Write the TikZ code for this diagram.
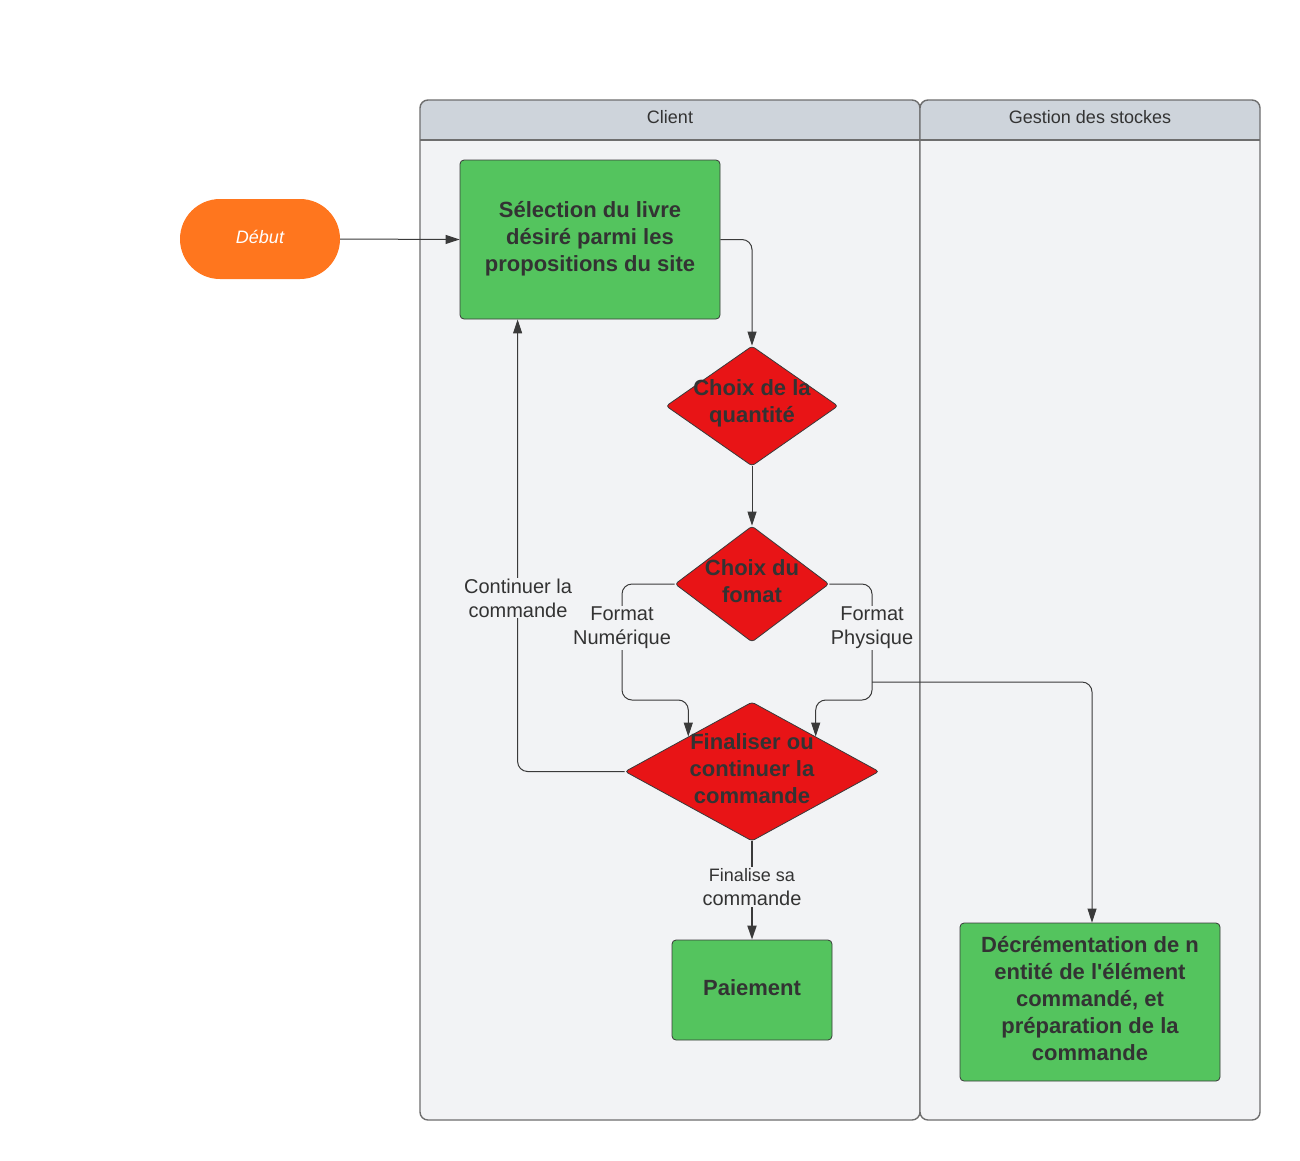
\documentclass[tikz,border=0pt]{standalone}
\usepackage{fontspec}
\setmainfont{Liberation Sans}[Ligatures=TeXOff]
\usetikzlibrary{shapes.geometric,arrows.meta,calc}
\definecolor{lanebg}{HTML}{F2F3F5}
\definecolor{headbg}{HTML}{CED4DB}
\definecolor{laneline}{HTML}{6E6E6E}
\definecolor{boxgreen}{HTML}{54C45E}
\definecolor{dred}{HTML}{E81416}
\definecolor{sorange}{HTML}{FF761E}
\definecolor{ink}{HTML}{333333}
\definecolor{edgecol}{HTML}{3A3A3A}
\begin{document}
\begin{tikzpicture}[x=1pt,y=-1pt,
  box/.style={draw=edgecol,line width=0.8pt,fill=boxgreen,rounded corners=4,inner sep=0pt,
    align=center,text=ink,font=\fontsize{22}{27}\selectfont\bfseries},
  decision/.style={diamond,draw=edgecol,line width=0.8pt,fill=dred,rounded corners=3,inner sep=0pt},
  dtext/.style={align=center,text=ink,font=\fontsize{22}{27}\selectfont\bfseries,inner sep=0pt},
  edge/.style={draw=edgecol,line width=1pt,-{Triangle[length=14pt,width=9pt]}},
  lbl/.style={fill=lanebg,align=center,text=ink,inner sep=1pt,font=\fontsize{20}{24}\selectfont},
  headtxt/.style={text=ink,font=\fontsize{18}{20}\selectfont}
]
\useasboundingbox[fill=white] (0,0) rectangle (1300,1160);

% lanes
\foreach \xa/\xb in {420/920,920/1260}{
  \fill[lanebg,rounded corners=8] (\xa,100) rectangle (\xb,1120);
  \fill[headbg,rounded corners=8] (\xa,100) rectangle (\xb,140);
  \fill[headbg] (\xa,120) rectangle (\xb,140);
  \draw[laneline,line width=1.4pt,rounded corners=8] (\xa,100) rectangle (\xb,1120);
  \draw[laneline,line width=1.4pt] (\xa,140) -- (\xb,140);
}
\node[headtxt] (hclient) at (670,117) {Client};
\node[headtxt] (hstock) at (1090,117) {Gestion des stockes};

% nodes
\node[fill=sorange,rounded corners=40,minimum width=160,minimum height=80,inner sep=0pt] (debut) at (260,239) {};
\node[text=white,font=\fontsize{18}{22}\selectfont\itshape] (debutt) at (260,237) {Début};
\node[box,minimum width=260,minimum height=159] (sel) at (590,239.5) {};
\node[dtext] (selt) at (590,238.5) {Sélection du livre\\désiré parmi les\\propositions du site};
\node[decision,minimum width=172,minimum height=120] (qty) at (752,406) {};
\node[dtext] (qtyt) at (752,403) {Choix de la\\quantité};
\node[decision,minimum width=154,minimum height=116] (fmt) at (752,584) {};
\node[dtext] (fmtt) at (752,581) {Choix du\\fomat};
\node[decision,minimum width=254,minimum height=139] (fin) at (752,771.5) {};
\node[dtext] (fint) at (752,769) {Finaliser ou\\continuer la\\commande};
\node[box,minimum width=160,minimum height=100] (pay) at (752,990) {};
\node[dtext] (payt) at (752,988) {Paiement};
\node[box,minimum width=260,minimum height=158] (dec) at (1090,1002) {};
\node[dtext] (dect) at (1090,999)
  {Décrémentation de n\\entité de l'élément\\commandé, et\\préparation de la\\commande};

% connectors
\draw[edge] (debut.east) -- (sel.west);
\draw[edge,rounded corners=10] (sel.east) -| (qty.north);
\draw[edge] (qty.south) -- (fmt.north);
\draw[edge,rounded corners=10] (fmt.west) -| (622,700) -| (fin.north west);
\draw[edge,rounded corners=10] (fmt.east) -| (872,700) -| (fin.north east);
\coordinate (split) at (872,682);
\draw[edge,rounded corners=10] (split) -| ($(dec.north)+(2,0)$);
\draw[edge,rounded corners=10] (fin.west) -| ($(sel.south west)+(58,0)$);
\draw[edge,line width=1.8pt] (fin.south) -- (pay.north);

% labels
\node[lbl] (lnum) at (622,628) {Format\\Numérique};
\node[lbl] (lphy) at (872,628) {Format\\Physique};
\node[lbl] (lcont) at (518,598) {Continuer la\\commande};
\node[lbl] (lfin) at (752,887) {{\fontsize{18}{20}\selectfont Finalise sa}\\commande};
\end{tikzpicture}
\end{document}
